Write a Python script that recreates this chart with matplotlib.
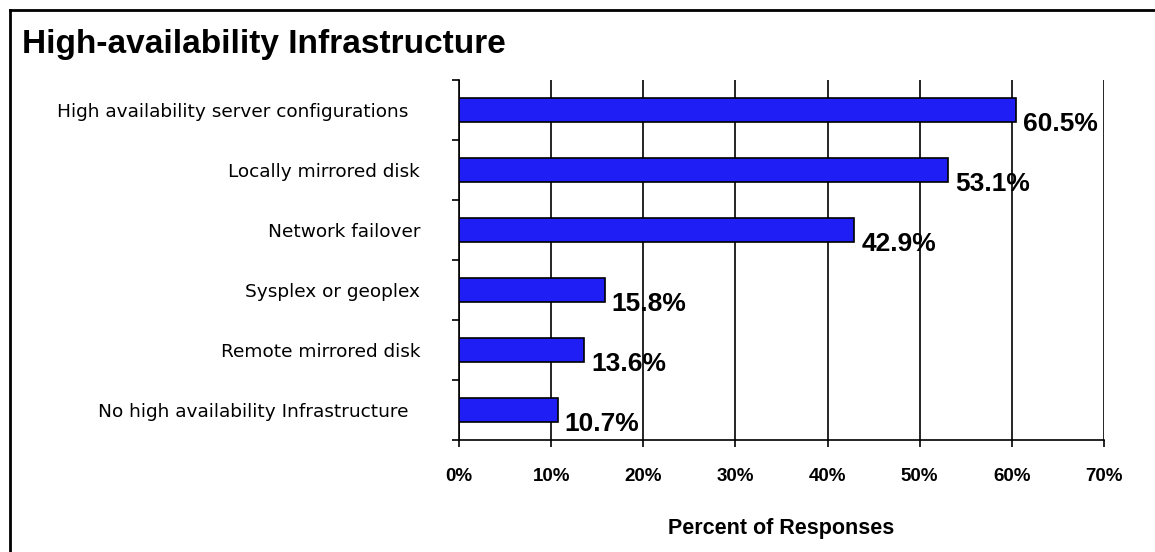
import matplotlib
matplotlib.use("Agg")
import matplotlib.pyplot as plt
from matplotlib.lines import Line2D
from matplotlib.ticker import FixedLocator

plt.rcParams['font.family'] = ['Liberation Sans', 'DejaVu Sans']

# survey results, top bar first
categories = [
    "High availability server configurations  ",
    "Locally mirrored disk",
    "Network failover",
    "Sysplex or geoplex",
    "Remote mirrored disk",
    "No high availability Infrastructure  ",
]
percent = [60.5, 53.1, 42.9, 15.8, 13.6, 10.7]
xticks = [0, 10, 20, 30, 40, 50, 60, 70]

W, H = 1155, 552
fig = plt.figure(figsize=(W / 100, H / 100), dpi=100)
ax = fig.add_axes([459 / W, 1 - 440 / H, (1104 - 459) / W, 360 / H])

pos = list(range(len(categories)))
ax.barh(pos, percent, height=0.4, color="#1E1EF5", edgecolor="black",
        linewidth=1.2, zorder=3)

for y, v in zip(pos, percent):
    ax.annotate(f"{v:.1f}%", xy=(v, y), xytext=(5, -10),
                textcoords="offset points", ha="left", va="center",
                fontsize=19, fontweight="bold", zorder=4)

ax.set_xlim(0, 70)
ax.set_ylim(len(categories) - 0.5, -0.5)

ax.set_xticks(xticks)
ax.set_xticklabels([f"{t}%" for t in xticks], fontsize=13.5, fontweight="bold")
ax.tick_params(axis="x", direction="out", length=5, width=1.2, pad=15)
ax.xaxis.grid(True, color="black", linewidth=1.2)
ax.set_axisbelow(True)

ax.set_yticks(pos)
ax.set_yticklabels(categories, fontsize=13.3, family="DejaVu Sans")
ax.tick_params(axis="y", which="major", length=0, pad=28)
ax.yaxis.set_minor_locator(FixedLocator([p + 0.5 for p in pos] + [-0.5]))
ax.tick_params(axis="y", which="minor", direction="out", length=5, width=1.2)

ax.set_xlabel("Percent of Responses", fontsize=15.5, fontweight="bold",
              labelpad=24)

for side in ("top", "right"):
    ax.spines[side].set_visible(False)
for side in ("left", "bottom"):
    ax.spines[side].set_linewidth(1.2)

fig.text(22 / W, 1 - 45 / H, "High-availability Infrastructure",
         fontsize=24, fontweight="bold", ha="left", va="center")

# page frame: only top and left edges show
fig.add_artist(Line2D([10 / W, 1], [1 - 10 / H, 1 - 10 / H],
                      transform=fig.transFigure, color="black", linewidth=2))
fig.add_artist(Line2D([10 / W, 10 / W], [0, 1 - 10 / H],
                      transform=fig.transFigure, color="black", linewidth=2))

fig.savefig("out.png", dpi=100, facecolor="white")
